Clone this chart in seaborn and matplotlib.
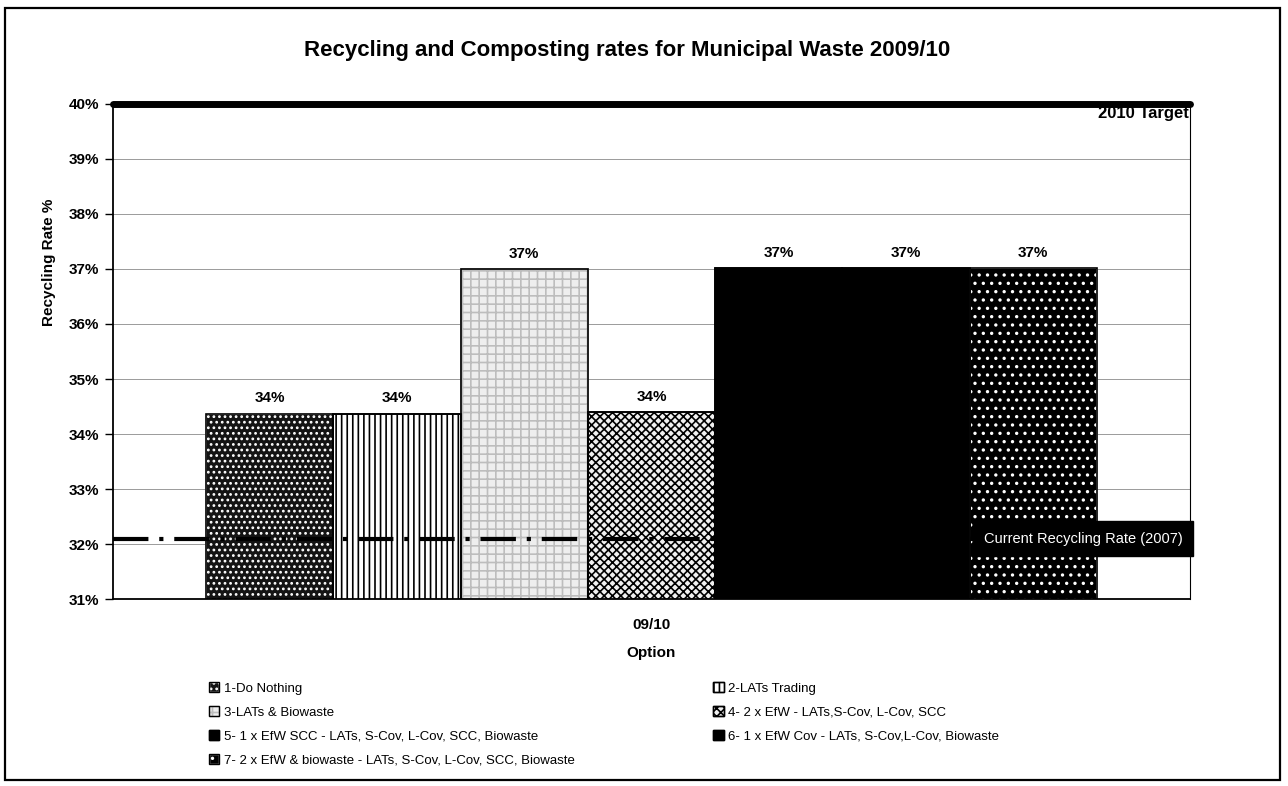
import pandas as pd
import numpy as np
import matplotlib
matplotlib.use("Agg")
import matplotlib.pyplot as plt
import seaborn as sns
from matplotlib.patches import Patch, Rectangle
from matplotlib.ticker import PercentFormatter

# data
period = "09/10"
options = ["1-Do Nothing",
           "2-LATs Trading",
           "3-LATs & Biowaste",
           "4- 2 x EfW - LATs,S-Cov, L-Cov, SCC",
           "5- 1 x EfW SCC - LATs, S-Cov, L-Cov, SCC, Biowaste",
           "6- 1 x EfW Cov - LATs, S-Cov,L-Cov, Biowaste",
           "7- 2 x EfW & biowaste - LATs, S-Cov, L-Cov, SCC, Biowaste"]
rates = [0.3437, 0.3437, 0.3700, 0.3440, 0.3702, 0.3702, 0.3702]
target_rate = 0.40
target_label = "2010 Target"
current_rate = 0.321
current_label = "Current Recycling Rate (2007)"

# fill styles per option (face, hatch, hatch colour)
# hatch colour comes from the edge colour, so the black outline is drawn separately
styles = [("#141414", "...", "white"),
          ("white", "|||", "black"),
          ("#eeeeee", "++", "#bdbdbd"),
          ("#f0f0f0", "xxxx", "black"),
          ("black", "", "black"),
          ("black", "", "black"),
          ("black", "..", "white")]

df = pd.DataFrame({"period": period, "option": options, "rate": rates})

sns.set_style("white")
plt.rcParams["font.family"] = ["Liberation Sans", "DejaVu Sans"]
plt.rcParams["hatch.linewidth"] = 1.2
for k in ["text.color", "axes.labelcolor", "xtick.color", "ytick.color"]:
    plt.rcParams[k] = "black"

fig = plt.figure(figsize=(12.88, 7.86), dpi=100)
ax = fig.add_axes([0.0877, 0.2379, 0.8362, 0.6298])

sns.barplot(data=df, x="period", y="rate", hue="option", hue_order=options,
            width=0.827, palette=["white"] * 7, edgecolor="black",
            linewidth=1.2, legend=False, ax=ax)

for cont, (face, hatch, hcol) in zip(ax.containers, styles):
    for p in cont:
        p.set_facecolor(face)
        p.set_edgecolor(hcol)
        p.set_hatch(hatch)
        p.set_zorder(2)
        # black outline on top of the hatched bar
        ax.add_patch(Rectangle(p.get_xy(), p.get_width(), p.get_height(),
                               fill=False, edgecolor="black", linewidth=1.2,
                               zorder=2.1))
    ax.bar_label(cont, labels=[f"{v:.0%}" for v in cont.datavalues],
                 padding=6, fontsize=11, fontweight="bold")

ax.set_ylim(0.31, 0.40)
ax.set_yticks(np.arange(0.31, 0.4001, 0.01))
ax.yaxis.set_major_formatter(PercentFormatter(1, decimals=0))
ax.yaxis.grid(True, color="#9a9a9a", linewidth=0.7)
ax.set_axisbelow(True)

ax.tick_params(axis="y", left=True, length=6, width=1, labelsize=11, pad=4)
ax.tick_params(axis="x", bottom=False, labelsize=11, pad=10)
for lab in ax.get_yticklabels() + ax.get_xticklabels():
    lab.set_fontweight("bold")

for s in ["left", "bottom"]:
    ax.spines[s].set_color("black")
    ax.spines[s].set_linewidth(1.3)
ax.spines["right"].set_color("black")
ax.spines["right"].set_linewidth(0.8)
ax.spines["top"].set_visible(False)

ax.set_ylabel("Recycling Rate %", fontsize=11, fontweight="bold")
ax.yaxis.set_label_coords(-0.053, 0.68)
ax.set_xlabel("Option", fontsize=11, fontweight="bold", labelpad=10)

# 2010 target line
ax.axhline(target_rate, color="black", linewidth=5, zorder=4, clip_on=False)
ax.text(0.999, target_rate - 0.0003, target_label, transform=ax.get_yaxis_transform(),
        ha="right", va="top", fontsize=12, fontweight="bold", zorder=5)

# current rate line
ax.axhline(current_rate, color="black", linewidth=3, dashes=(8.5, 2.6, 1, 2.6),
           zorder=3)
ax.text(0.993, current_rate, current_label, transform=ax.get_yaxis_transform(),
        ha="right", va="center", fontsize=10.5, color="white", zorder=6,
        bbox=dict(boxstyle="square,pad=0.75", facecolor="black", edgecolor="black"))

fig.text(0.487, 0.936, "Recycling and Composting rates for Municipal Waste 2009/10",
         ha="center", va="center", fontsize=16, fontweight="bold")

# legend, row-major in two columns
handles = []
for face, hatch, hcol in styles:
    handles.append((Patch(facecolor=face, edgecolor=hcol, hatch=hatch),
                    Patch(fill=False, edgecolor="black", linewidth=1)))
order = [0, 2, 4, 6, 1, 3, 5]
fig.legend([handles[i] for i in order], [options[i] for i in order],
           ncol=2, loc="upper left", bbox_to_anchor=(0.162, 0.132),
           frameon=False, fontsize=9.5, handlelength=0.8, handleheight=0.8,
           handletextpad=0.35, labelspacing=0.85, columnspacing=10.5,
           borderaxespad=0, borderpad=0)

# outer border
fig.patches.append(Rectangle((0.004, 0.008), 0.99, 0.982, transform=fig.transFigure,
                             fill=False, edgecolor="black", linewidth=1.6))

fig.savefig("out.png", dpi=100)
